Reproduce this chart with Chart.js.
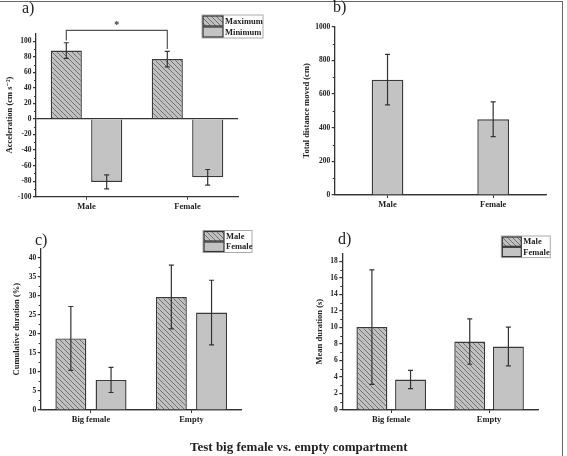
<!DOCTYPE html>
<html>
<head>
<meta charset="utf-8">
<script src="https://cdn.jsdelivr.net/npm/chart.js@4.4.1/dist/chart.umd.min.js"></script>
<style>
  html, body { margin: 0; padding: 0; background: #fff; overflow: hidden; }
  #fig { position: relative; width: 567px; height: 456px; overflow: hidden; font-family: "Liberation Serif", "DejaVu Serif", serif; color: #222; }
  #fig canvas { position: absolute; left: 0; top: 0; }
  .frame { position: absolute; left: -4px; top: 1px; width: 566px; height: 470px; border-top: 1.5px solid #666; border-right: 1.5px solid #666; }
  .tag { position: absolute; font-size: 16px; line-height: 16px; }
  .caption { position: absolute; left: 190px; top: 439px; font-size: 13px; line-height: 15px; font-weight: bold; white-space: nowrap; }
</style>
</head>
<body>
<div id="fig">
  <div class="frame"></div>
  <canvas id="chartA" width="567" height="456"></canvas>
  <canvas id="chartB" width="567" height="456"></canvas>
  <canvas id="chartC" width="567" height="456"></canvas>
  <canvas id="chartD" width="567" height="456"></canvas>
  <div class="tag" style="left:22px; top:0px;">a)</div>
  <div class="tag" style="left:333px; top:-1px;">b)</div>
  <div class="tag" style="left:35px; top:232px;">c)</div>
  <div class="tag" style="left:338px; top:231px;">d)</div>
  <div class="caption">Test big female vs. empty compartment</div>
</div>
<script>
// a) acceleration
const sexGroups = ["Male", "Female"];
const accelMax = [88, 77];
const accelMaxErr = [10, 10];
const accelMin = [-81, -75];
const accelMinErr = [9, 10];
const accelTicks = [-100, -80, -60, -40, -20, 0, 20, 40, 60, 80, 100];

// b) total distance
const distMoved = [685, 450];
const distMovedErr = [150, 103];
const distTicks = [0, 200, 400, 600, 800, 1000];

// c) and d) compartment test
const compartments = ["Big female", "Empty"];
const cumMale = [18.8, 29.7];
const cumMaleErr = [8.4, 8.4];
const cumFemale = [7.9, 25.6];
const cumFemaleErr = [3.3, 8.5];
const cumTicks = [0, 5, 10, 15, 20, 25, 30, 35, 40];

const meanMale = [10.05, 8.3];
const meanMaleErr = [6.95, 2.75];
const meanFemale = [3.7, 7.7];
const meanFemaleErr = [1.1, 2.35];
const meanTicks = [0, 2, 4, 6, 8, 10, 12, 14, 16, 18];

const FONT = "'Liberation Serif', 'DejaVu Serif', serif";
const W = 567, H = 456, XH = 22;
const INK = "#333";
const SOLID = "#c3c3c3";

Chart.defaults.font.family = FONT;
Chart.defaults.font.weight = "bold";
Chart.defaults.color = "#222";
Chart.defaults.animation = false;

function hatch() {
  const c = document.createElement("canvas");
  c.width = c.height = 5;
  const g = c.getContext("2d");
  g.fillStyle = "#c0c0c0";
  g.fillRect(0, 0, 5, 5);
  g.strokeStyle = "#707070";
  g.lineWidth = 1;
  g.beginPath();
  g.moveTo(-1, -1); g.lineTo(6, 6);
  g.moveTo(-1, 4); g.lineTo(1, 6);
  g.moveTo(4, -1); g.lineTo(6, 1);
  g.stroke();
  return g.createPattern(c, "repeat");
}
const HATCH = hatch();

const errorBars = {
  id: "errorBars",
  afterDatasetsDraw(chart) {
    const { ctx } = chart;
    const y = chart.scales.y;
    ctx.save();
    ctx.strokeStyle = INK;
    ctx.lineWidth = 1.2;
    chart.data.datasets.forEach((ds, i) => {
      if (!ds.errors) return;
      chart.getDatasetMeta(i).data.forEach((bar, j) => {
        const top = y.getPixelForValue(ds.data[j] + ds.errors[j]);
        const bot = y.getPixelForValue(ds.data[j] - ds.errors[j]);
        ctx.beginPath();
        ctx.moveTo(bar.x, top); ctx.lineTo(bar.x, bot);
        ctx.moveTo(bar.x - 2.5, top); ctx.lineTo(bar.x + 2.5, top);
        ctx.moveTo(bar.x - 2.5, bot); ctx.lineTo(bar.x + 2.5, bot);
        ctx.stroke();
      });
    });
    ctx.restore();
  }
};

const minorTicks = {
  id: "minorTicks",
  afterDraw(chart) {
    const y = chart.scales.y, ctx = chart.ctx;
    const t = y.ticks.map(k => k.value);
    ctx.save();
    ctx.strokeStyle = INK;
    ctx.lineWidth = 1;
    ctx.beginPath();
    for (let i = 1; i < t.length; i++) {
      const py = Math.round(y.getPixelForValue((t[i - 1] + t[i]) / 2)) + 0.5;
      ctx.moveTo(y.right - 2, py);
      ctx.lineTo(y.right, py);
    }
    ctx.stroke();
    ctx.restore();
  }
};

const boxLegend = {
  id: "boxLegend",
  afterDraw(chart, args, o) {
    if (o.x === undefined) return;
    const ctx = chart.ctx;
    const sets = chart.data.datasets;
    const h = o.rowH * sets.length + 1;
    ctx.save();
    ctx.fillStyle = "#fff";
    ctx.strokeStyle = "#aaa";
    ctx.lineWidth = 1;
    ctx.fillRect(o.x, o.y, o.w, h);
    ctx.strokeRect(o.x, o.y, o.w, h);
    ctx.font = "bold " + o.size + "px " + FONT;
    ctx.textBaseline = "middle";
    sets.forEach((ds, i) => {
      const ry = o.y + 1 + i * o.rowH;
      ctx.fillStyle = ds.backgroundColor;
      ctx.fillRect(o.x + 1, ry, o.swW, o.rowH - 1);
      ctx.strokeStyle = INK;
      ctx.lineWidth = 1.2;
      ctx.strokeRect(o.x + 1, ry, o.swW, o.rowH - 1);
      ctx.fillStyle = "#222";
      ctx.fillText(ds.label, o.x + o.swW + 3, ry + o.rowH / 2);
    });
    ctx.restore();
  }
};

const sigBracket = {
  id: "sigBracket",
  afterDatasetsDraw(chart, args, o) {
    if (!o.label) return;
    const y = chart.scales.y, ctx = chart.ctx;
    const ds = chart.data.datasets[o.dataset];
    const bars = chart.getDatasetMeta(o.dataset).data;
    const x1 = bars[o.from].x, x2 = bars[o.to].x;
    const top = y.getPixelForValue(o.level);
    const leg = i => y.getPixelForValue(ds.data[i] + ds.errors[i] + o.gap);
    ctx.save();
    ctx.strokeStyle = "#555";
    ctx.lineWidth = 1.2;
    ctx.beginPath();
    ctx.moveTo(x1, leg(o.from));
    ctx.lineTo(x1, top);
    ctx.lineTo(x2, top);
    ctx.lineTo(x2, leg(o.to));
    ctx.stroke();
    ctx.fillStyle = "#333";
    ctx.font = "bold 10px " + FONT;
    ctx.textAlign = "center";
    ctx.textBaseline = "middle";
    ctx.fillText(o.label, (x1 + x2) / 2, top - 5);
    ctx.restore();
  }
};

function panel(id, p) {
  return new Chart(document.getElementById(id), {
    type: "bar",
    data: { labels: p.labels, datasets: p.datasets },
    plugins: [errorBars, minorTicks, boxLegend, sigBracket],
    options: {
      responsive: false,
      layout: {
        padding: {
          left: p.area.l - p.yW,
          right: W - p.area.r,
          top: p.area.t,
          bottom: H - p.area.b - XH
        }
      },
      datasets: {
        bar: {
          categoryPercentage: p.catPct,
          barPercentage: p.barPct,
          borderColor: "#3a3a3a",
          borderWidth: 1.4,
          borderSkipped: "start",
          inflateAmount: 0
        }
      },
      scales: {
        x: {
          offset: true,
          afterFit: s => { s.height = XH; },
          grid: { offset: false, drawOnChartArea: false, tickColor: INK, tickLength: 3 },
          border: { color: INK, width: 1.3 },
          ticks: { font: { size: 8.5, weight: "bold" }, padding: 2, maxRotation: 0 }
        },
        y: {
          min: p.min,
          max: p.max,
          afterBuildTicks: s => { s.ticks = p.ticks.map(v => ({ value: v })); },
          afterFit: s => { s.width = p.yW; },
          ticks: { font: { size: 7.5, weight: "bold" }, padding: 1.5, callback: v => String(v) },
          grid: {
            color: c => (c.tick && c.tick.value === 0 ? INK : "rgba(0,0,0,0)"),
            tickColor: INK,
            tickLength: 3,
            lineWidth: 1.2
          },
          border: { color: INK, width: 1.3 },
          title: { display: true, text: p.title, font: { size: 8.5, weight: "bold" }, padding: 0 }
        }
      },
      plugins: {
        legend: { display: false },
        tooltip: { enabled: false },
        boxLegend: p.legend || {},
        sigBracket: p.sig || {}
      }
    }
  });
}

panel("chartA", {
  labels: sexGroups,
  datasets: [
    { label: "Maximum", data: accelMax, errors: accelMaxErr, backgroundColor: HATCH },
    { label: "Minimum", data: accelMin, errors: accelMinErr, backgroundColor: SOLID }
  ],
  min: -100, max: 110, ticks: accelTicks,
  title: "Acceleration (cm s\u207B\u00B2)",
  area: { l: 36, r: 238, t: 33.4, b: 196.7 }, yW: 31.1,
  catPct: 0.8, barPct: 0.77,
  legend: { x: 202, y: 15, w: 61, rowH: 11, swW: 20, size: 8.5 },
  sig: { dataset: 0, from: 0, to: 1, level: 114, gap: 3, label: "*" }
});

panel("chartB", {
  labels: sexGroups,
  datasets: [
    { label: "Total distance", data: distMoved, errors: distMovedErr, backgroundColor: SOLID }
  ],
  min: 0, max: 1000, ticks: distTicks,
  title: "Total distance moved (cm)",
  area: { l: 334.7, r: 546, t: 26.7, b: 195 }, yW: 33.5,
  catPct: 0.8, barPct: 0.375
});

panel("chartC", {
  labels: compartments,
  datasets: [
    { label: "Male", data: cumMale, errors: cumMaleErr, backgroundColor: HATCH },
    { label: "Female", data: cumFemale, errors: cumFemaleErr, backgroundColor: SOLID }
  ],
  min: 0, max: 42.5, ticks: cumTicks,
  title: "Cumulative duration (%)",
  area: { l: 40.7, r: 241.7, t: 248.3, b: 410 }, yW: 29.1,
  catPct: 0.8, barPct: 0.77,
  legend: { x: 203, y: 230.5, w: 49, rowH: 10.5, swW: 20, size: 8.5 }
});

panel("chartD", {
  labels: compartments,
  datasets: [
    { label: "Male", data: meanMale, errors: meanMaleErr, backgroundColor: HATCH },
    { label: "Female", data: meanFemale, errors: meanFemaleErr, backgroundColor: SOLID }
  ],
  min: 0, max: 19, ticks: meanTicks,
  title: "Mean duration (s)",
  area: { l: 342.3, r: 538, t: 253.3, b: 410 }, yW: 27.7,
  catPct: 0.79, barPct: 0.8,
  legend: { x: 501.3, y: 236, w: 49, rowH: 10.3, swW: 19, size: 8.5 }
});
</script>
</body>
</html>
